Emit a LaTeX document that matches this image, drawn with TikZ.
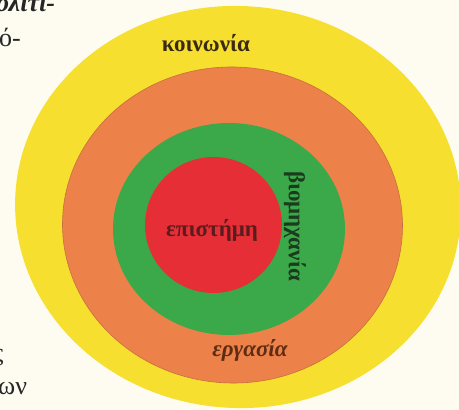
\documentclass[tikz,border=0pt]{standalone}
\usepackage{fontspec}
\setmainfont{Liberation Serif}
\definecolor{bgc}{HTML}{FEFCF1}
\definecolor{ylw}{HTML}{F6DF2F}
\definecolor{org}{HTML}{EC8249}
\definecolor{grn}{HTML}{3BA84A}
\definecolor{rd}{HTML}{E62E37}
\definecolor{txtdark}{HTML}{3A2A12}
\definecolor{txtred}{HTML}{5A1C1C}
\definecolor{txtgrn}{HTML}{1C3A1E}
\definecolor{txtbrn}{HTML}{5E2C12}
\begin{document}
\begin{tikzpicture}[x=1pt,y=1pt,
  lbl/.style={inner sep=0pt,font=\fontsize{23}{24}\selectfont\bfseries},
  side/.style={inner sep=0pt,anchor=base west,font=\fontsize{26}{28}\selectfont,text=black!85}]
\useasboundingbox (0,0) rectangle (459,410);
\clip (0,0) rectangle (459,410);
\fill[bgc] (0,0) rectangle (459,410);
% rings
\fill[ylw, rotate around={-3.5:(238,203)}] (238,203) ellipse [x radius=223, y radius=201];
\fill[org, draw=org!85!black, line width=0.6pt, rotate around={-2:(232.5,185)}] (232.5,185) ellipse [x radius=170, y radius=158];
\fill[grn] (229,181) ellipse [x radius=116, y radius=106];
\fill[rd] (213.5,185) ellipse [x radius=68.5, y radius=68];
% labels
\node[lbl,text=txtdark] (koin) at (206,367) {κοινωνία};
\node[lbl,text=txtred] (epist) at (212,180) {επιστήμη};
\node[lbl,text=txtgrn,rotate=-90] (viom) at (295,184) {βιομηχανία};
\node[lbl,text=txtbrn,font=\fontsize{23}{24}\selectfont\bfseries\itshape] (erg) at (250,60) {εργασία};
% cut-off side text
\node[side,font=\fontsize{26}{28}\selectfont\bfseries\itshape] (t1) at (-4,398) {ολιτι-};
\node[side] (t2) at (-1,363) {ό-};
\node[side] (t3) at (-7,48) {ς};
\node[side] (t4) at (-2,15) {ων};
\end{tikzpicture}
\end{document}
